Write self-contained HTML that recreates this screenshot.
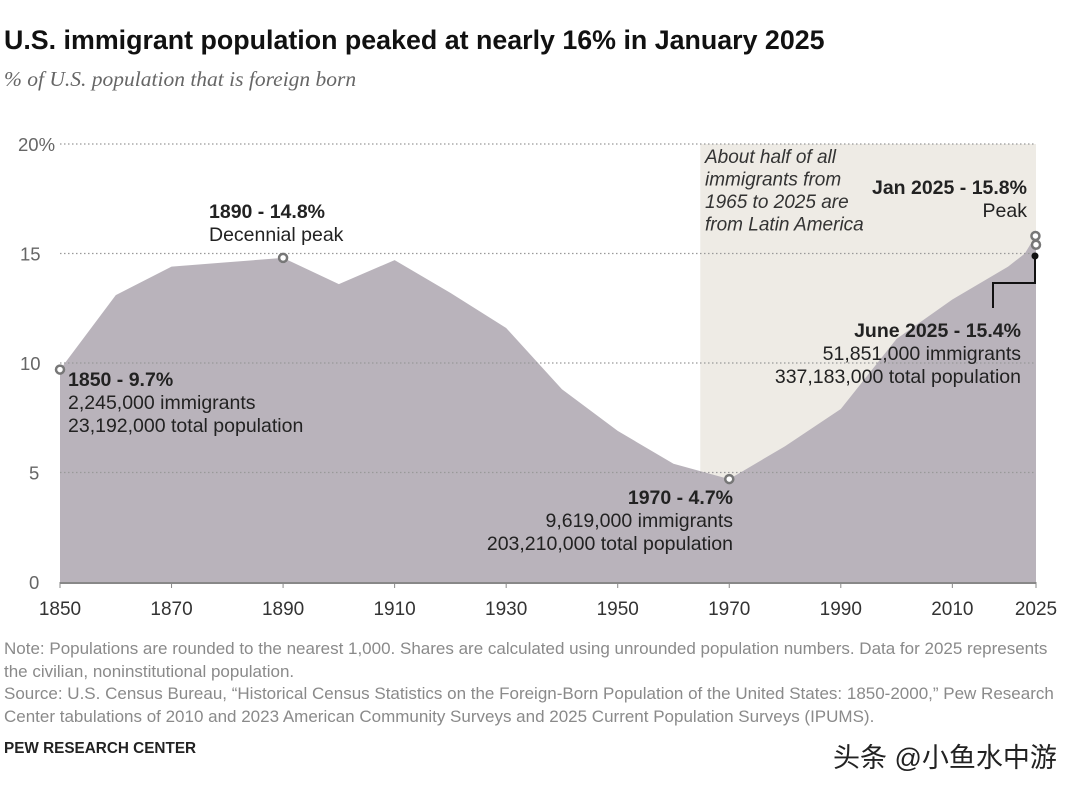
<!DOCTYPE html>
<html><head><meta charset="utf-8"><style>
body{margin:0;width:1080px;height:790px;background:#fff;font-family:"Liberation Sans",sans-serif;overflow:hidden;position:relative}
.t{position:absolute;white-space:nowrap}
</style></head><body>
<div class="t" style="left:4px;top:25px;font-size:26.8px;font-weight:bold;color:#111">U.S. immigrant population peaked at nearly 16% in January 2025</div>
<div class="t" style="left:4px;top:67px;font-size:21.5px;font-style:italic;font-family:'Liberation Serif',serif;color:#666">% of U.S. population that is foreign born</div>
<svg id="chart" width="1080" height="640" style="position:absolute;left:0;top:0" font-family="Liberation Sans, sans-serif"></svg>
<div class="t" style="left:4px;top:638px;font-size:17px;line-height:22.5px;color:#8a8a8a">Note: Populations are rounded to the nearest 1,000. Shares are calculated using unrounded population numbers. Data for 2025 represents<br>the civilian, noninstitutional population.<br>Source: U.S. Census Bureau, “Historical Census Statistics on the Foreign-Born Population of the United States: 1850-2000,” Pew Research<br>Center tabulations of 2010 and 2023 American Community Surveys and 2025 Current Population Surveys (IPUMS).</div>
<div class="t" style="left:4px;top:740px;font-size:15.3px;font-weight:bold;color:#222">PEW RESEARCH CENTER</div>
<div class="t" style="left:833px;top:736px;font-size:27px;color:#222;font-family:'Liberation Sans','Noto Sans CJK SC',sans-serif">头条 @小鱼水中游</div>
<script>
const years=[1850,1860,1870,1880,1890,1900,1910,1920,1930,1940,1950,1960,1970,1980,1990,2000,2010,2020,2023,2024.9,2025];
const shares=[9.7,13.1,14.4,14.6,14.8,13.6,14.7,13.2,11.6,8.8,6.9,5.4,4.7,6.2,7.9,11.1,12.9,14.4,15.0,15.8,15.4];
const yTicks=[0,5,10,15,20];
const xTicks=[1850,1870,1890,1910,1930,1950,1970,1990,2010,2025];
const NS="http://www.w3.org/2000/svg";
const svg=document.getElementById('chart');
const x=v=>60+(v-1850)*(976/175);
const y=v=>582-v*21.9;
function mk(t,a){const e=document.createElementNS(NS,t);for(const k in a)e.setAttribute(k,a[k]);svg.appendChild(e);return e;}
let r=mk('rect',{x:x(1964.8),y:y(20),width:x(2025)-x(1964.8),height:y(0)-y(20),fill:'#eeebe5'});


let d='M'+x(years[0])+','+y(0);
years.forEach((yr,i)=>{d+=' L'+x(yr)+','+y(shares[i]);});
d+=' L'+x(2025)+','+y(0)+' Z';
let a=mk('path',{d:d,fill:'#b9b3bb'});


yTicks.forEach(t=>{
  if(t>0){let g=mk('line',{x1:60,x2:1036,y1:y(t),y2:y(t),stroke:'#999','stroke-dasharray':'1.5 2.5','stroke-width':1.2});
  
  }
  let tx=mk('text',{x:t==20?18:(t>=10?20:29),y:y(t)+7,'font-size':18.5,fill:'#666'});
  tx.textContent=t==20?'20%':t;
  
  
});
let ax=mk('line',{x1:60,x2:1036,y1:y(0)+1,y2:y(0)+1,stroke:'#888','stroke-width':2});


xTicks.forEach(t=>{
  mk('line',{x1:x(t),x2:x(t),y1:y(0),y2:y(0)+6,stroke:'#888'});
  let tx=mk('text',{x:x(t),y:615,'font-size':19,fill:'#333','text-anchor':'middle'});
  tx.textContent=t;
  
  
});
[[1850,9.7],[1890,14.8],[1970,4.7],[2024.9,15.8],[2025,15.4]].forEach(p=>{
  let c=mk('circle',{cx:x(p[0]),cy:y(p[1]),r:4,fill:'#fff',stroke:'#777','stroke-width':2.5});
  
  
});
mk('circle',{cx:1035,cy:256,r:3.5,fill:'#111'});
let ld=mk('path',{d:'M1035,256 V283 H993 V308',fill:'none',stroke:'#111','stroke-width':2});


function lab(lines,xx,yy,anchor,name){
  const t=mk('text',{x:xx,y:yy,'font-size':19.5,fill:'#222','text-anchor':anchor});
  lines.forEach((l,i)=>{const s=document.createElementNS(NS,'tspan');s.setAttribute('x',xx);s.setAttribute('dy',i?23:0);if(l[1])s.setAttribute('font-weight','bold');s.textContent=l[0];t.appendChild(s);});
  
  
}
lab([['1890 - 14.8%',1],['Decennial peak']],209,218,'start','label-1890');
lab([['1850 - 9.7%',1],['2,245,000 immigrants'],['23,192,000 total population']],68,386,'start','label-1850');
lab([['1970 - 4.7%',1],['9,619,000 immigrants'],['203,210,000 total population']],733,504,'end','label-1970');
lab([['Jan 2025 - 15.8%',1],['Peak']],1027,194,'end','label-jan-2025');
lab([['June 2025 - 15.4%',1],['51,851,000 immigrants'],['337,183,000 total population']],1021,337,'end','label-june-2025');
const it=mk('text',{x:705,y:163,'font-size':19,fill:'#333','font-style':'italic'});
['About half of all','immigrants from','1965 to 2025 are','from Latin America'].forEach((l,i)=>{const s=document.createElementNS(NS,'tspan');s.setAttribute('x',705);s.setAttribute('dy',i?22.5:0);s.textContent=l;it.appendChild(s);});


</script>
</body></html>
